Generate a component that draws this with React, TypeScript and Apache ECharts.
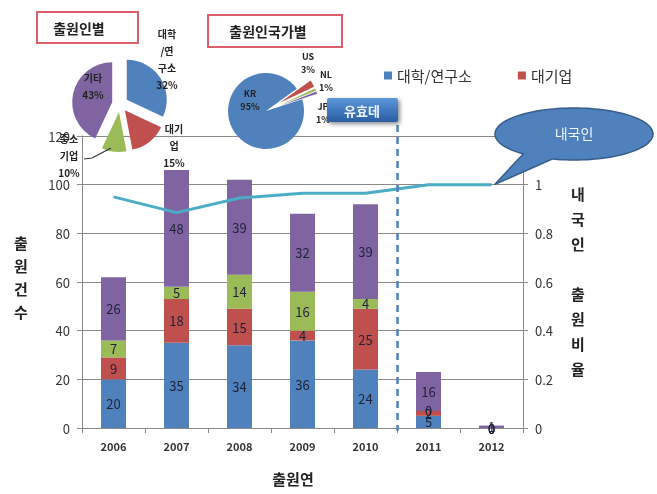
import React, { useEffect, useRef } from 'react';
import * as echarts from 'echarts';

// ---- data ----
const years = ['2006', '2007', '2008', '2009', '2010', '2011', '2012'];
const univ = [20, 35, 34, 36, 24, 5, 0];
const largeCorp = [9, 18, 15, 4, 25, 2, 0];
const smeCorp = [7, 5, 14, 16, 4, 0, 0];
const others = [26, 48, 39, 32, 39, 16, 1];
const domesticRatio = [0.95, 0.885, 0.945, 0.965, 0.965, 1, 1];
const applicantTypes = ['대학/연구소', '대기업', '중소기업', '기타'];
const applicantShare = [32, 15, 10, 43];
const countries = ['US', 'NL', 'JP', 'KR'];
const countryShare = [3, 1, 1, 95];
const legendItems = ['대학/연구소', '대기업'];
const leftMax = 120;
const leftInterval = 20;
const rightMax = 1.2;
const rightInterval = 0.2;

// ---- styles / layout ----
const typeColors = ['#4f81bd', '#c0504d', '#9bbb59', '#8064a2'];
const countryColors = ['#c0504d', '#9bbb59', '#8064a2', '#4f81bd'];
const lineColor = '#4bacc6';
const FONT = "'Noto Sans CJK KR', 'Noto Sans', sans-serif";
const pie1LabelPos = [
  [167, 59],
  [174, 145],
  [69, 155],
  [93, 86],
];
const pie2LabelPos = [
  [308, 63],
  [326, 81],
  [323, 113],
  [250, 100],
];

function chunk2(s: string) {
  const out: string[] = [];
  for (let i = 0; i < s.length; i += 2) out.push(s.slice(i, i + 2));
  return out.join('\n');
}

function calloutPoints(cx: number, cy: number, rx: number, ry: number, a1: number, a2: number, tip: number[]) {
  const pts: number[][] = [];
  const p = (a: number) => [cx + rx * Math.cos((a * Math.PI) / 180), cy + ry * Math.sin((a * Math.PI) / 180)];
  for (let a = 0; a < 360; a += 3) {
    if (a < a1) pts.push(p(a));
    else if (a >= a1 && a - 3 < a1) {
      pts.push(p(a1));
      pts.push(tip);
      pts.push(p(a2));
    }
    if (a > a2) pts.push(p(a));
  }
  return pts;
}

export default function App() {
  const ref = useRef<HTMLDivElement>(null);
  useEffect(() => {
    if (!ref.current) return;
    const chart = echarts.init(ref.current, undefined, { renderer: 'svg' });
    const barNames = applicantTypes;
    const barData = [univ, largeCorp, smeCorp, others];
    const option: any = {
      animation: false,
      textStyle: { fontFamily: FONT },
      legend: {
        data: legendItems,
        left: 379,
        top: 63,
        icon: 'rect',
        itemWidth: 8,
        itemHeight: 8,
        itemGap: 46,
        textStyle: { fontSize: 15, color: '#333', fontFamily: FONT },
      },
      grid: { left: 82, right: 134, top: 136, bottom: 66, containLabel: false },
      xAxis: {
        type: 'category',
        data: years,
        axisLine: { lineStyle: { color: '#8a8a8a' } },
        axisTick: { show: true, length: 5, lineStyle: { color: '#8a8a8a' } },
        axisLabel: { fontSize: 11, fontWeight: 'bold', color: '#333', margin: 12 },
      },
      yAxis: [
        {
          type: 'value',
          min: 0,
          max: leftMax,
          interval: leftInterval,
          axisLine: { show: true, lineStyle: { color: '#8a8a8a' } },
          axisTick: { show: true, length: 5, lineStyle: { color: '#8a8a8a' } },
          splitLine: { lineStyle: { color: '#8a8a8a' } },
          axisLabel: { fontSize: 13, color: '#333', margin: 12 },
        },
        {
          type: 'value',
          min: 0,
          max: rightMax,
          interval: rightInterval,
          axisLine: { show: true, lineStyle: { color: '#8a8a8a' } },
          axisTick: { show: true, length: 5, lineStyle: { color: '#8a8a8a' } },
          splitLine: { show: false },
          axisLabel: {
            fontSize: 13,
            color: '#333',
            margin: 12,
            formatter: (v: number) => (v > 1.1 ? '' : String(+v.toFixed(1))),
          },
        },
      ],
      series: [
        ...barNames.map((n, i) => ({
          name: n,
          type: 'bar',
          stack: 'total',
          barWidth: 25,
          data: barData[i],
          itemStyle: { color: typeColors[i] },
          label: { show: true, position: 'inside', fontSize: 13, color: '#1e2238' },
          emphasis: { disabled: true },
        })),
        {
          name: '내국인 출원비율',
          type: 'line',
          yAxisIndex: 1,
          data: domesticRatio,
          symbol: 'none',
          lineStyle: { color: lineColor, width: 3 },
          itemStyle: { color: lineColor },
          z: 5,
        },
        {
          name: '출원인별',
          type: 'pie',
          center: [120, 104],
          radius: 40,
          startAngle: 90,
          selectedMode: 'multiple',
          selectedOffset: 8,
          emphasis: { disabled: true },
          data: applicantTypes.map((n, i) => ({
            name: n,
            value: applicantShare[i],
            selected: true,
            itemStyle: { color: typeColors[i] },
          })),
          label: { show: false },
          labelLine: { show: false },
          z: 6,
        },
        {
          name: '출원인국가별',
          type: 'pie',
          center: [266, 111],
          radius: 38,
          startAngle: 36,
          selectedMode: 'multiple',
          selectedOffset: 16,
          emphasis: { disabled: true },
          data: countries.map((n, i) => ({
            name: n,
            value: countryShare[i],
            selected: n !== 'KR',
            itemStyle: { color: countryColors[i] },
          })),
          label: { show: false },
          labelLine: { show: false },
          z: 6,
        },
      ],
    };
    chart.setOption(option);

    // annotations positioned from the chart's own scales
    const xa = chart.convertToPixel({ xAxisIndex: 0 }, '2010') as number;
    const xb = chart.convertToPixel({ xAxisIndex: 0 }, '2011') as number;
    const splitX = Math.round((xa + xb) / 2) + 0.5;
    const tip = chart.convertToPixel({ seriesIndex: 4 }, [6, 1]) as number[];
    const y0 = chart.convertToPixel({ yAxisIndex: 0 }, 0) as number;

    const pie1Labels = applicantTypes.map((n, i) => ({
      type: 'text',
      x: pie1LabelPos[i][0],
      y: pie1LabelPos[i][1],
      style: {
        text: chunk2(n) + '\n' + applicantShare[i] + '%',
        fontSize: 10,
        fontWeight: 'bold',
        lineHeight: 17,
        fill: '#222',
        align: 'center',
        verticalAlign: 'middle',
        fontFamily: FONT,
      },
      z: 12,
    }));
    const pie2Labels = countries.map((n, i) => ({
      type: 'text',
      x: pie2LabelPos[i][0],
      y: pie2LabelPos[i][1],
      style: {
        text: n + '\n' + countryShare[i] + '%',
        fontSize: 9,
        fontWeight: 'bold',
        lineHeight: 13,
        fill: '#222',
        align: 'center',
        verticalAlign: 'middle',
        fontFamily: FONT,
      },
      z: 12,
    }));

    chart.setOption({
      graphic: [
        ...pie1Labels,
        ...pie2Labels,
        {
          type: 'rect',
          shape: { x: 37, y: 12, width: 101, height: 31 },
          style: { fill: '#fff', stroke: '#dc5f6b', lineWidth: 2 },
          z: 10,
        },
        {
          type: 'text',
          x: 79,
          y: 28,
          style: { text: '출원인별', fontSize: 14, fontWeight: 'bold', fill: '#222', align: 'center', verticalAlign: 'middle', fontFamily: FONT },
          z: 11,
        },
        {
          type: 'rect',
          shape: { x: 208, y: 15, width: 134, height: 32 },
          style: { fill: '#fff', stroke: '#dc5f6b', lineWidth: 2 },
          z: 10,
        },
        {
          type: 'text',
          x: 268,
          y: 31,
          style: { text: '출원인국가별', fontSize: 14, fontWeight: 'bold', fill: '#222', align: 'center', verticalAlign: 'middle', fontFamily: FONT },
          z: 11,
        },
        {
          type: 'polyline',
          shape: { points: [[84, 159], [92, 158], [111, 148]] },
          style: { stroke: '#333', lineWidth: 1.2, fill: 'none' },
          z: 10,
        },
        {
          type: 'line',
          shape: { x1: splitX, y1: 125, x2: splitX, y2: y0 + 3 },
          style: { stroke: '#4f81bd', lineWidth: 2.5, lineDash: [7, 5] },
          z: 20,
        },
        {
          type: 'rect',
          shape: { x: 327, y: 98, width: 71, height: 24, r: 2 },
          style: {
            fill: new echarts.graphic.LinearGradient(0, 0, 0, 1, [
              { offset: 0, color: '#5b97dc' },
              { offset: 1, color: '#2a5ea3' },
            ]),
            shadowBlur: 4,
            shadowOffsetX: 2,
            shadowOffsetY: 2,
            shadowColor: 'rgba(0,0,0,0.45)',
          },
          z: 30,
        },
        {
          type: 'text',
          x: 362,
          y: 110,
          style: { text: '유효데', fontSize: 13, fontWeight: 'bold', fill: '#eef4ff', align: 'center', verticalAlign: 'middle', fontFamily: FONT },
          z: 31,
        },
        {
          type: 'polygon',
          shape: { points: calloutPoints(574, 134, 79, 26, 106, 130, [tip[0] + 3, tip[1]]) },
          style: { fill: '#4f81bd', stroke: '#385d8a', lineWidth: 1.5 },
          z: 30,
        },
        {
          type: 'text',
          x: 574,
          y: 133,
          style: { text: '내국인', fontSize: 14, fill: '#f2f6ff', align: 'center', verticalAlign: 'middle', fontFamily: FONT },
          z: 31,
        },
        {
          type: 'text',
          x: 21,
          y: 277,
          style: { text: '출\n원\n건\n수', fontSize: 15, fontWeight: 'bold', lineHeight: 23, fill: '#222', align: 'center', verticalAlign: 'middle', fontFamily: FONT },
        },
        {
          type: 'text',
          x: 578,
          y: 281,
          style: { text: '내\n국\n인\n\n출\n원\n비\n율', fontSize: 15, fontWeight: 'bold', lineHeight: 25, fill: '#222', align: 'center', verticalAlign: 'middle', fontFamily: FONT },
        },
        {
          type: 'text',
          x: 293,
          y: 478,
          style: { text: '출원연', fontSize: 15, fontWeight: 'bold', fill: '#222', align: 'center', verticalAlign: 'middle', fontFamily: FONT },
        },
      ],
    });

    return () => chart.dispose();
  }, []);
  return <div ref={ref} style={{ position: 'fixed', left: 0, top: 0, width: 657, height: 494 }} />;
}
